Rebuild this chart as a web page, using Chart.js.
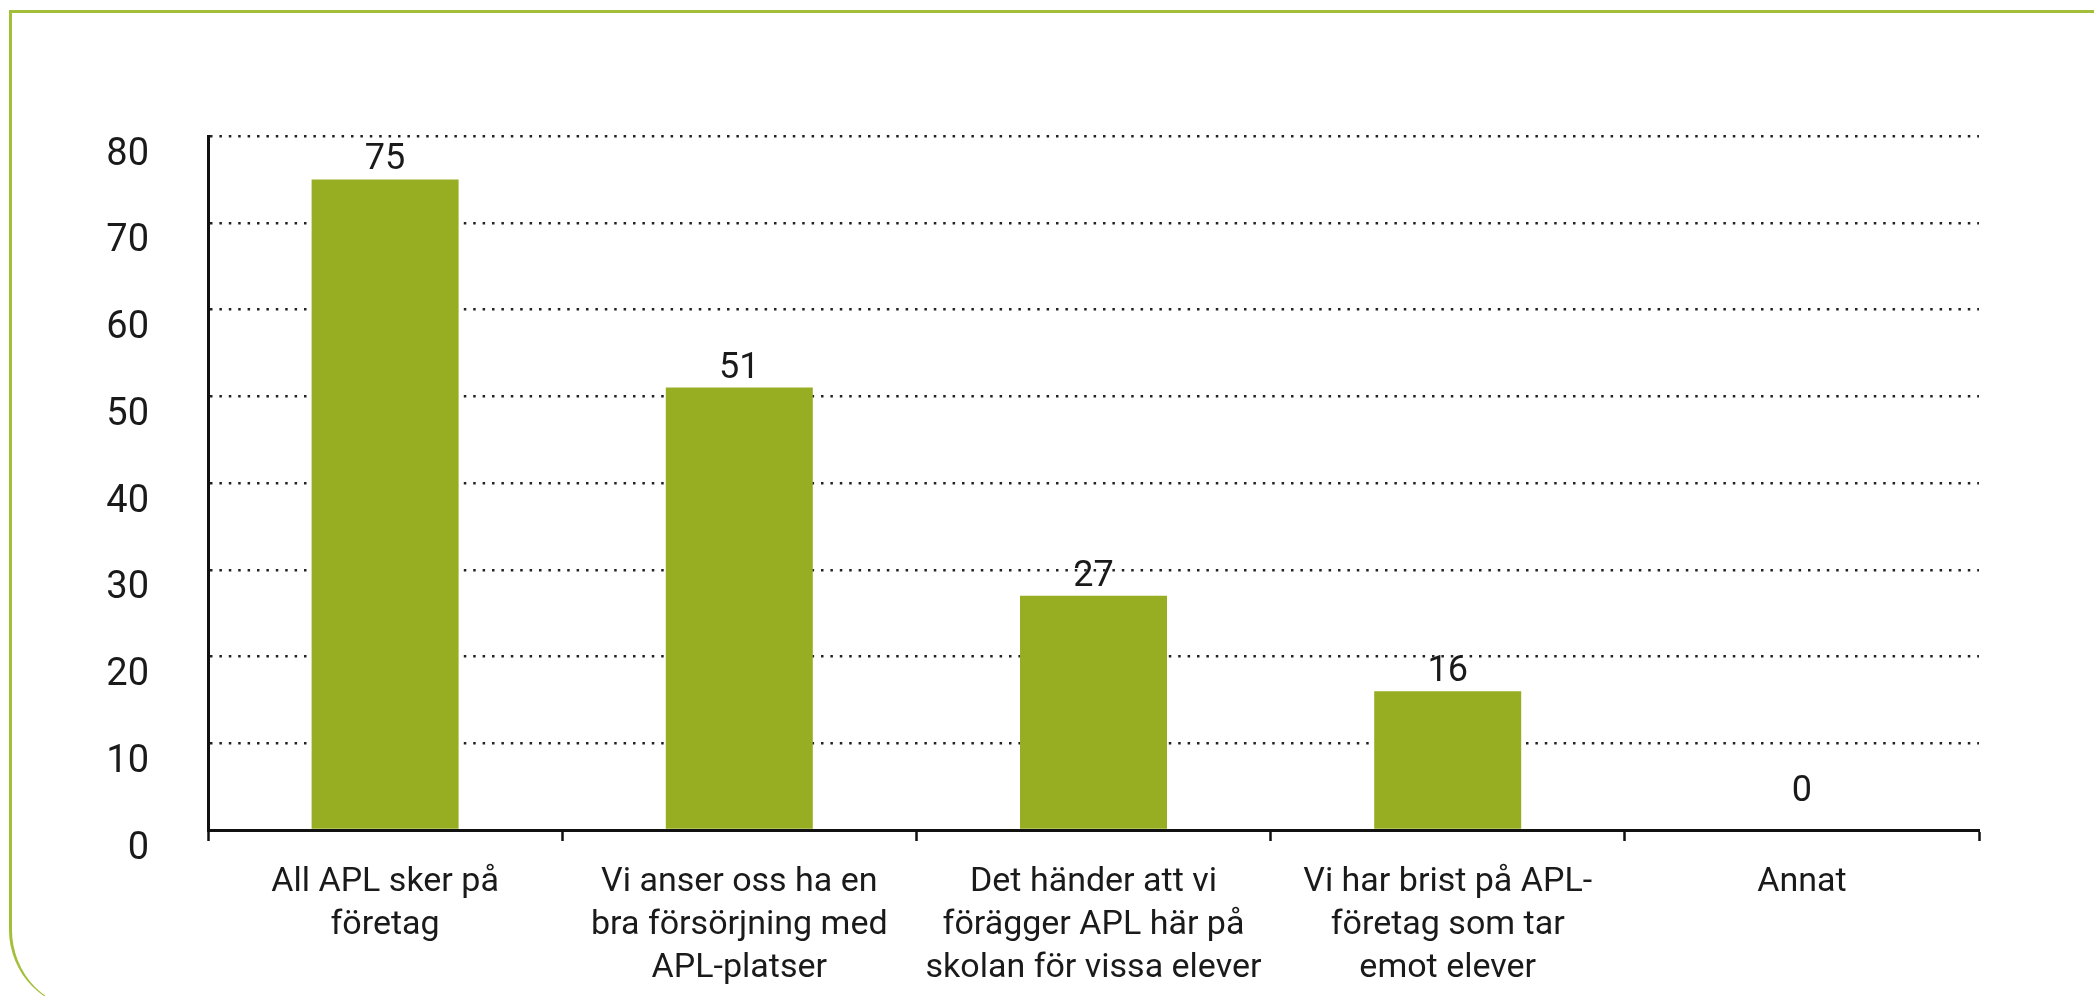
<!DOCTYPE html>
<html>
<head>
<meta charset="utf-8">
<script src="https://cdn.jsdelivr.net/npm/chart.js@4/dist/chart.umd.min.js"></script>
<style>
  html, body { margin: 0; padding: 0; background: #fff; overflow: hidden; }
  #wrap { position: relative; width: 2094px; height: 996px; }
  #frame {
    position: absolute; left: 9px; top: 10px; width: 2200px; height: 1000px;
    border-top: 3px solid #a3bf3a; border-left: 3px solid #a3bf3a;
    border-bottom-left-radius: 80px; box-sizing: border-box;
  }
  canvas { position: absolute; left: 0; top: 0; }
</style>
</head>
<body>
<div id="wrap">
  <div id="frame"></div>
  <canvas id="myChart" width="2094" height="996"></canvas>
</div>
<script>
// kategorier och värden
const labels = [
  ['All APL sker på', 'företag'],
  ['Vi anser oss ha en', 'bra försörjning med', 'APL-platser'],
  ['Det händer att vi', 'förägger APL här på', 'skolan för vissa elever'],
  ['Vi har brist på APL-', 'företag som tar', 'emot elever'],
  ['Annat']
];
const values = [75, 51, 27, 16, 0];
const yTicks = [0, 10, 20, 30, 40, 50, 60, 70, 80];

const barColor = 'rgb(151,174,34)';
const textColor = '#1a1a1a';

// etiketter ovanför staplarna
const valueLabels = {
  id: 'valueLabels',
  afterDatasetsDraw(chart) {
    const ctx = chart.ctx;
    const meta = chart.getDatasetMeta(0);
    ctx.save();
    ctx.font = '36px Roboto';
    ctx.fillStyle = textColor;
    ctx.textAlign = 'center';
    ctx.textBaseline = 'bottom';
    meta.data.forEach((bar, i) => {
      // minst lite luft ovanför axeln även när stapeln är 0
      const y = Math.min(bar.y - 1, bar.base - 20);
      ctx.fillText(values[i], bar.x, y);
    });
    ctx.restore();
  }
};

const data = {
  labels: labels,
  datasets: [{
    data: values,
    backgroundColor: barColor,
    borderWidth: 0,
    barPercentage: 0.415,
    categoryPercentage: 1
  }]
};

const config = {
  type: 'bar',
  data: data,
  options: {
    responsive: false,
    devicePixelRatio: 1,
    animation: false,
    layout: { padding: { left: 0, top: 136, right: 115, bottom: 0 } },
    plugins: { legend: { display: false }, tooltip: { enabled: false } },
    scales: {
      x: {
        afterFit: (s) => { s.height = 166; },
        border: { color: '#111', width: 3 },
        grid: {
          offset: true,
          drawOnChartArea: false,
          drawTicks: true,
          tickLength: 11,
          tickWidth: 2.5,
          tickColor: '#111'
        },
        ticks: {
          color: textColor,
          font: { family: 'Roboto', size: 34, lineHeight: 1.27 },
          padding: 20,
          maxRotation: 0,
          autoSkip: false
        }
      },
      y: {
        min: 0,
        max: 80,
        afterFit: (s) => { s.width = 208; },
        afterBuildTicks: (s) => { s.ticks = yTicks.map(v => ({ value: v })); },
        // i v4 styr border.dash stödlinjernas streckning
        border: { color: '#111', width: 3, dash: [2.5, 6.9] },
        grid: {
          color: '#222',
          lineWidth: 2.5,
          drawTicks: false
        },
        ticks: {
          color: textColor,
          font: { family: 'Roboto', size: 38 },
          padding: 59,
          labelOffset: 19
        }
      }
    }
  },
  plugins: [valueLabels]
};

const myChart = new Chart(document.getElementById('myChart'), config);
</script>
</body>
</html>
